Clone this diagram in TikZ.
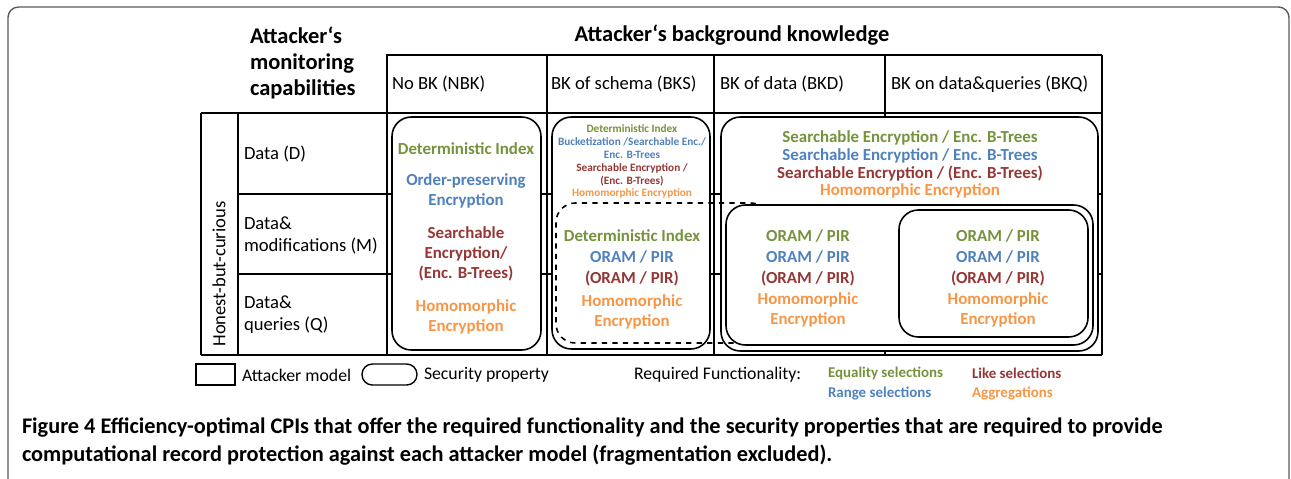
\documentclass[tikz,border=0pt]{standalone}
\usepackage{fontspec}
\setmainfont{Carlito}
\usetikzlibrary{positioning}
\definecolor{eqgreen}{RGB}{118,146,60}
\definecolor{rngblue}{RGB}{79,129,189}
\definecolor{likered}{RGB}{149,55,53}
\definecolor{aggorange}{RGB}{247,150,70}
\definecolor{framegray}{RGB}{90,90,90}

\begin{document}
\begin{tikzpicture}[x=0.02cm,y=-0.02cm,
every node/.style={inner sep=0pt,outer sep=0pt},
gridline/.style={line width=1.2pt},
secbox/.style={draw,line width=0.9pt,rounded corners=11pt,fill=white},
label/.style={anchor=west,align=left,font=\fontsize{10.6}{12.5}\selectfont},
title/.style={font=\bfseries\fontsize{12.8}{14.7}\selectfont},
cpi/.style={align=center,font=\bfseries\fontsize{9.6}{11.3}\selectfont},
tiny/.style={align=center,font=\bfseries\fontsize{6.4}{7.4}\selectfont},
mid/.style={align=center,font=\bfseries\fontsize{9.6}{10.2}\selectfont},
legtext/.style={anchor=west,font=\fontsize{10.1}{11.6}\selectfont},
legfun/.style={anchor=west,font=\bfseries\fontsize{8.5}{9}\selectfont}]
\useasboundingbox (0,0) rectangle (1291,478);

% frame of the figure
\draw[framegray,line width=0.8pt,rounded corners=6pt] (8,500) -- (8,7) -- (1289,7) -- (1289,500);

% titles
\node[title] (bgk) at (732,35) {Attacker‘s background knowledge};
\node[title,anchor=west,align=left] (mon) at (250,63) {Attacker‘s\\monitoring\\capabilities};

% table
\draw[gridline] (386,55) -- (1102,55);
\draw[gridline] (201,113) -- (1102,113);
\draw[gridline] (238,194) -- (1102,194);
\draw[gridline] (238,274) -- (1102,274);
\draw[gridline] (201,355) -- (1102,355);
\draw[gridline] (201,113) -- (201,355);
\draw[gridline] (238,113) -- (238,355);
\foreach \x in {387,547,714,885,1102}
  \draw[gridline] (\x,55) -- (\x,355);

\node[label] (nbk) at (392,84) {No BK (NBK)};
\node[label] (bks) at (551,84) {BK of schema (BKS)};
\node[label] (bkd) at (720,84) {BK of data (BKD)};
\node[label] (bkq) at (891,84) {BK on data\&queries (BKQ)};

\node[label,anchor=center,rotate=90] (hbc) at (219,274) {Honest-but-curious};
\node[label] (rowD) at (244,154) {Data (D)};
\node[label] (rowM) at (244,235) {Data\&\\modifications (M)};
\node[label] (rowQ) at (244,315) {Data\&\\queries (Q)};

% security properties
\draw[secbox] (392,117) rectangle (541,350);
\draw[secbox] (552,117) rectangle (710,349);
\draw[secbox] (721,117) rectangle (1098,351);
\draw[line width=0.9pt,dashed,rounded corners=11pt] (556,203) rectangle (770,343);
\draw[secbox] (726,205) rectangle (1093,345);
\draw[secbox] (899,210) rectangle (1088,337);

% no background knowledge
\node[cpi,text=eqgreen] (n1) at (466,149) {Deterministic Index};
\node[cpi,text=rngblue] (n2) at (466,191) {Order-preserving\\Encryption};
\node[cpi,text=likered] (n3) at (466,254) {Searchable\\Encryption/\\(Enc. B-Trees)};
\node[cpi,text=aggorange] (n4) at (466,317) {Homomorphic\\Encryption};

% schema, data only
\node[tiny,text=eqgreen] (s1) at (632,129) {Deterministic Index};
\node[tiny,text=rngblue] (s2) at (632,148.5) {Bucketization /Searchable Enc./\\Enc. B-Trees};
\node[tiny,text=likered] (s3) at (632,174.5) {Searchable Encryption /\\(Enc. B-Trees)};
\node[tiny,text=aggorange] (s4) at (632,193) {Homomorphic Encryption};

% schema, modifications and queries
\node[cpi,text=eqgreen] (d1) at (632,236) {Deterministic Index};
\node[cpi,text=rngblue] (d2) at (632,257) {ORAM / PIR};
\node[cpi,text=likered] (d3) at (632,279) {(ORAM / PIR)};
\node[cpi,text=aggorange] (d4) at (632,312) {Homomorphic\\Encryption};

% data, data only
\node[mid,text=eqgreen] (b1) at (910,138) {Searchable Encryption / Enc. B-Trees};
\node[mid,text=rngblue] (b2) at (910,156) {Searchable Encryption / Enc. B-Trees};
\node[mid,text=likered] (b3) at (910,174) {Searchable Encryption / (Enc. B-Trees)};
\node[mid,text=aggorange] (b4) at (910,191) {Homomorphic Encryption};

% data, modifications and queries
\node[cpi,text=eqgreen] (m1) at (808,236) {ORAM / PIR};
\node[cpi,text=rngblue] (m2) at (808,257) {ORAM / PIR};
\node[cpi,text=likered] (m3) at (808,279) {(ORAM / PIR)};
\node[cpi,text=aggorange] (m4) at (808,310) {Homomorphic\\Encryption};

% data and queries
\node[cpi,text=eqgreen] (q1) at (998,236) {ORAM / PIR};
\node[cpi,text=rngblue] (q2) at (998,257) {ORAM / PIR};
\node[cpi,text=likered] (q3) at (998,279) {(ORAM / PIR)};
\node[cpi,text=aggorange] (q4) at (998,310) {Homomorphic\\Encryption};

% legend
\draw[line width=0.8pt] (196,364) rectangle (235,385);
\node[legtext] (lmodel) at (242,375) {Attacker model};
\draw[line width=0.8pt,rounded corners=5.9pt] (362,364) rectangle (417,385);
\node[legtext] (lprop) at (424,375) {Security property};
\node[legtext] (lfun) at (634,375) {Required Functionality:};
\node[legfun,text=eqgreen] (leq) at (828,373) {Equality selections};
\node[legfun,text=rngblue] (lrng) at (828,394) {Range selections};
\node[legfun,text=likered] (llike) at (972,373) {Like selections};
\node[legfun,text=aggorange] (lagg) at (972,394) {Aggregations};

% caption
\node[anchor=west,align=left,font=\bfseries\fontsize{12.7}{15.9}\selectfont] (cap) at (22,442)
  {Figure 4 Efficiency-optimal CPIs that offer the required functionality and the security properties that are required to provide\\
   computational record protection against each attacker model (fragmentation excluded).};
\end{tikzpicture}
\end{document}
